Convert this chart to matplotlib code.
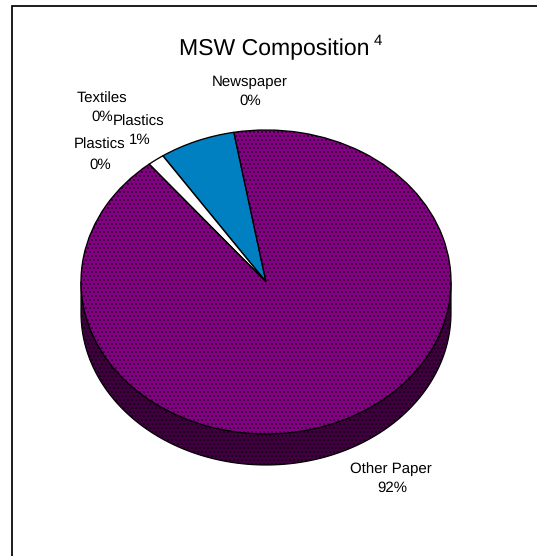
import numpy as np
import matplotlib
matplotlib.use("Agg")
import matplotlib.pyplot as plt

plt.rcParams['font.family'] = ['Liberation Sans', 'DejaVu Sans']
plt.rcParams['text.hinting'] = 'no_hinting'
plt.rcParams['text.hinting_factor'] = 1
plt.rcParams['hatch.linewidth'] = 0.55

# values, counter clockwise from the start angle
categories = ["Newspaper", "Textiles", "Plastics", "Plastics", "Other Paper"]
values = [6.64, 0.0, 1.47, 0.0, 91.89]
shown_pct = ["0%", "0%", "1%", "0%", "92%"]
colors = ["#0080c0", "#ffffff", "#ffffff", "#ffffff", "#860086"]
hatches = [None, None, None, None, "...."]
side_color = "#400040"

W, H = 537, 556
DPI = 96  # hatch tile is one inch, 24 rows then gives a clean 4 px grid
cx, cy, rx, ry, depth = 266, 282, 185, 152, 31
pad = 1.1

# label centres in pixels (name line, percent line)
label_pos = [
    ((250, 82), (250, 101)),
    ((102, 99), (102, 117)),
    ((139, 122), (140, 140)),
    ((100, 145), (100, 165)),
    ((391, 469), (392, 488)),
]

fig = plt.figure(figsize=(W / DPI, H / DPI), dpi=DPI, facecolor="white")

# page layer in pixel coordinates
page = fig.add_axes([0, 0, 1, 1])
page.set_xlim(0, W)
page.set_ylim(H, 0)
page.axis("off")
page.plot([11.5, 11.5, W], [H, 5.5, 5.5], color="black", lw=1.3, solid_joinstyle="miter")

# pie layer, one unit is one radius
d = depth / ry
left, right = cx - pad * rx, cx + pad * rx
top, bottom = cy - pad * ry, cy + (1 + d) * ry + (pad - 1) * ry
ax = fig.add_axes([left / W, 1 - bottom / H, (right - left) / W, (bottom - top) / H])

t = np.linspace(np.pi, 2 * np.pi, 300)
ax.fill_between(np.cos(t), 0, np.sin(t) - d, facecolor=side_color, edgecolor="black",
                hatch="....", linewidth=0.9)

wedges, _ = ax.pie(values, startangle=100, colors=colors, counterclock=True,
                   wedgeprops=dict(edgecolor="black", linewidth=1.0))
for w, h in zip(wedges, hatches):
    if h:
        w.set_hatch(h)
ax.set_aspect("auto")
ax.set_xlim(-pad, pad)
ax.set_ylim(-1 - d - (pad - 1), pad)
ax.axis("off")

# put text above the pie
page.set_zorder(3)
page.patch.set_visible(False)
page.text(274.5, 55, "MSW Composition", ha="center", va="baseline", fontsize=17.4)
page.text(378, 45, "4", ha="center", va="baseline", fontsize=11.5)
for name, pct, (p1, p2) in zip(categories, shown_pct, label_pos):
    page.text(p1[0], p1[1], name, ha="center", va="center", fontsize=11.25)
    page.text(p2[0], p2[1], pct, ha="center", va="center", fontsize=11.25)

fig.savefig("out.png", dpi=DPI)
